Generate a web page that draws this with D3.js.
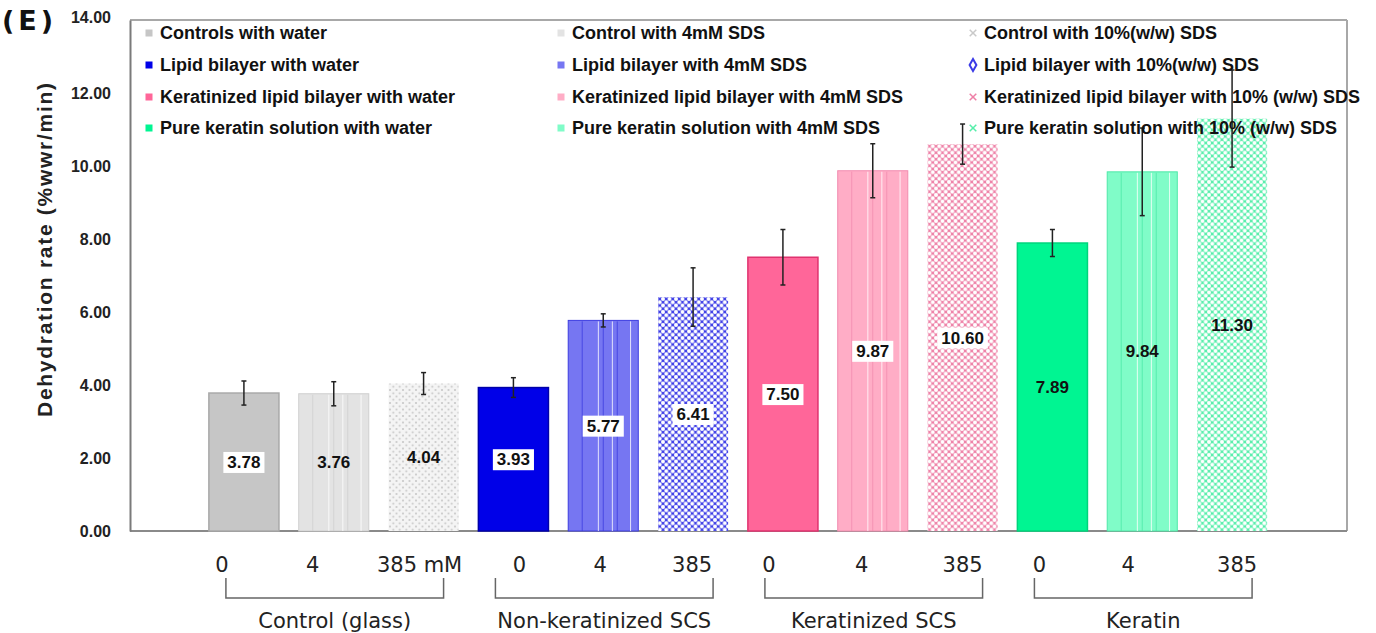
<!DOCTYPE html>
<html><head><meta charset="utf-8">
<script src="https://cdn.jsdelivr.net/npm/d3@7"></script>
<style>
html,body{margin:0;padding:0;background:#fff;}
svg{display:block;}
</style></head>
<body>
<svg id="chart" width="1376" height="633"></svg>
<script>
// ---------------- data ----------------
const groupNames = ["Control (glass)", "Non-keratinized SCS", "Keratinized SCS", "Keratin"];
const concLabels = ["0", "4", "385 mM", "0", "4", "385", "0", "4", "385", "0", "4", "385"];
const values = [3.78, 3.76, 4.04, 3.93, 5.77, 6.41, 7.50, 9.87, 10.60, 7.89, 9.84, 11.30];
const errors = [0.33, 0.33, 0.30, 0.27, 0.18, 0.80, 0.76, 0.74, 0.55, 0.37, 1.20, 1.33];
const valueText = ["3.78", "3.76", "4.04", "3.93", "5.77", "6.41", "7.50", "9.87", "10.60", "7.89", "9.84", "11.30"];
const seriesNames = [
  "Controls with water", "Control with 4mM SDS", "Control with 10%(w/w) SDS",
  "Lipid bilayer with water", "Lipid bilayer with 4mM SDS", "Lipid bilayer with 10%(w/w) SDS",
  "Keratinized lipid bilayer with water", "Keratinized lipid bilayer with 4mM SDS", "Keratinized lipid bilayer with 10% (w/w) SDS",
  "Pure keratin solution with water", "Pure  keratin solution with 4mM SDS", "Pure keratin solution with 10% (w/w) SDS"
];
const yTicks = [0, 2, 4, 6, 8, 10, 12, 14];
const yTitle = "Dehydration rate  (%wwr/min)";

// ---------------- styles (separate from data) ----------------
const materialColors = [
  {solid: "#c6c6c6", solidStroke: "#a9a9a9", stripe: "#e3e3e3", stripeStroke: "#cfcfcf", mesh: "#c9c9c9"},
  {solid: "#0000e8", solidStroke: "#0000a8", stripe: "#7676f2", stripeStroke: "#3d3de0", mesh: "#3b3be6"},
  {solid: "#ff6699", solidStroke: "#e0336f", stripe: "#ffadc6", stripeStroke: "#f28caf", mesh: "#ee7fa6"},
  {solid: "#00f592", solidStroke: "#00d47c", stripe: "#80fcc8", stripeStroke: "#4ee8a8", mesh: "#55eeaa"}
];
const fillKinds = ["solid", "stripe", "mesh"];
const boxedLabels = [true, false, false, true, true, true, true, true, true, false, false, false];
const labelNudge = [-22, -21, -4, 6, -3, -1, -14, -11, 0, -13, -14, 5];
const stripeFractions = [0.2, 0.43, 0.5, 0.63, 0.7, 0.89];

// ---------------- layout ----------------
const svg = d3.select("#chart");
const plot = {left: 130, right: 1347, top: 20, bottom: 531};
const y = d3.scaleLinear().domain([0, 14]).range([plot.bottom, plot.top]);
const x = d3.scaleBand().domain(d3.range(values.length)).range([199, 1277]).paddingInner(0.22).paddingOuter(0.11);

// patterns
const defs = svg.append("defs");
materialColors.forEach((c, i) => {
  const s = 6.5;
  const p = defs.append("pattern").attr("id", "mesh" + i).attr("patternUnits", "userSpaceOnUse")
    .attr("width", s).attr("height", s);
  const pts = [[0,0],[s,0],[0,s],[s,s],[s/2,s/2]];
  if (i === 0) {
    p.append("rect").attr("width", s).attr("height", s).attr("fill", "#f4f4f4");
    pts.forEach(([a,b]) => p.append("circle").attr("cx", a).attr("cy", b).attr("r", 1.0).attr("fill", "#c4c4c4"));
  } else {
    p.append("rect").attr("width", s).attr("height", s).attr("fill", c.mesh);
    pts.forEach(([a,b]) => p.append("circle").attr("cx", a).attr("cy", b).attr("r", 2.0).attr("fill", "#fff"));
  }
});

// frame
svg.append("line").attr("x1", plot.left).attr("x2", plot.right).attr("y1", plot.top).attr("y2", plot.top)
  .attr("stroke", "#a8a8a8").attr("stroke-width", 2);
svg.append("line").attr("x1", plot.right).attr("x2", plot.right).attr("y1", plot.top).attr("y2", plot.bottom)
  .attr("stroke", "#a8a8a8").attr("stroke-width", 2);
svg.append("line").attr("x1", plot.left).attr("x2", plot.right).attr("y1", plot.bottom).attr("y2", plot.bottom)
  .attr("stroke", "#8a8a8a").attr("stroke-width", 2);

// y axis (line + tick positions from d3 axis, labels styled explicitly)
const yAxis = svg.append("g").attr("transform", `translate(${plot.left},0)`)
  .call(d3.axisLeft(y).tickValues(yTicks).tickFormat(d3.format(".2f")).tickSize(0).tickSizeOuter(0).tickPadding(19));
yAxis.select(".domain").attr("stroke", "#7a7a7a").attr("stroke-width", 2);
yAxis.selectAll(".tick text").remove();
const fmt = d3.format(".2f");
svg.append("g").selectAll("text").data(yTicks).join("text")
  .attr("x", plot.left - 19).attr("y", d => y(d)).attr("dy", d => d === 14 ? "0.2em" : "0.35em")
  .attr("text-anchor", "end")
  .attr("font-family", "Liberation Sans, Arial, sans-serif").attr("font-weight", "bold")
  .attr("font-size", 16).attr("fill", "#222").text(d => fmt(d));

// y title
svg.append("text").attr("transform", `translate(52,250) rotate(-90)`)
  .attr("text-anchor", "middle").attr("font-family", "Liberation Sans, Arial, sans-serif")
  .attr("font-weight", "bold").attr("font-size", 21).attr("fill", "#222")
  .attr("textLength", 334).text(yTitle);

// (E)
svg.append("text").attr("x", 2).attr("y", 30).attr("font-family", "DejaVu Sans, sans-serif")
  .attr("font-weight", "bold").attr("font-size", 27).attr("letter-spacing", 4).attr("fill", "#111").text("(E)");

// bars
const bars = svg.append("g");
values.forEach((v, i) => {
  const m = Math.floor(i / 3), k = fillKinds[i % 3], c = materialColors[m];
  const x0 = x(i), w = x.bandwidth(), y0 = y(v), h = y(0) - y(v);
  if (k === "solid") {
    bars.append("rect").attr("x", x0).attr("y", y0).attr("width", w).attr("height", h)
      .attr("fill", c.solid).attr("stroke", c.solidStroke).attr("stroke-width", 1.5);
  } else if (k === "stripe") {
    bars.append("rect").attr("x", x0).attr("y", y0).attr("width", w).attr("height", h)
      .attr("fill", c.stripe).attr("stroke", c.stripeStroke).attr("stroke-width", 1);
    stripeFractions.forEach((f, j) => {
      bars.append("line").attr("x1", x0 + f * w).attr("x2", x0 + f * w).attr("y1", y0 + 1).attr("y2", y(0))
        .attr("stroke", j % 2 ? "#ffffff" : c.stripeStroke).attr("stroke-opacity", 0.8).attr("stroke-width", 1);
    });
  } else {
    bars.append("rect").attr("x", x0).attr("y", y0).attr("width", w).attr("height", h)
      .attr("fill", `url(#mesh${m})`);
  }
});

// error bars
const eb = svg.append("g").attr("stroke", "#222").attr("stroke-width", 1.5);
values.forEach((v, i) => {
  const cx = x(i) + x.bandwidth() / 2;
  eb.append("line").attr("x1", cx).attr("x2", cx).attr("y1", y(v + errors[i])).attr("y2", y(v - errors[i]));
  [v + errors[i], v - errors[i]].forEach(e =>
    eb.append("line").attr("x1", cx - 2.5).attr("x2", cx + 2.5).attr("y1", y(e)).attr("y2", y(e)));
});

// value labels
const vl = svg.append("g");
values.forEach((v, i) => {
  const cx = x(i) + x.bandwidth() / 2, cy = (y(v) + y(0)) / 2;
  const t = vl.append("text").attr("x", cx).attr("y", cy).attr("dy", "0.35em").attr("text-anchor", "middle")
    .attr("font-family", "Liberation Sans, Arial, sans-serif").attr("font-weight", "bold")
    .attr("font-size", 17).attr("fill", "#111").text(valueText[i]);
  if (boxedLabels[i]) {
    const bb = t.node().getBBox();
    vl.insert("rect", () => t.node()).attr("x", bb.x - 4).attr("y", bb.y - 1)
      .attr("width", bb.width + 8).attr("height", bb.height + 2).attr("fill", "#fff");
  }
});

// legend
const legendCols = [149, 561, 973];
const legendRows = [33, 65, 97, 128];
const lg = svg.append("g");
seriesNames.forEach((name, i) => {
  const m = Math.floor(i / 3), col = i % 3, c = materialColors[m];
  const lx = legendCols[col], ly = legendRows[m];
  if (col === 0) {
    lg.append("rect").attr("x", lx - 3.5).attr("y", ly - 3.5).attr("width", 7).attr("height", 7).attr("fill", c.solid);
  } else if (col === 1) {
    lg.append("rect").attr("x", lx - 3.5).attr("y", ly - 3.5).attr("width", 7).attr("height", 7).attr("fill", c.stripe);
  } else {
    const sym = m === 1 ? d3.symbolDiamond : d3.symbolTimes;
    lg.append("path").attr("transform", `translate(${lx},${ly})`)
      .attr("d", d3.symbol().type(sym).size(m === 1 ? 40 : 30)())
      .attr("fill", "none").attr("stroke", c.mesh).attr("stroke-width", m === 1 ? 2 : 1.5);
  }
  lg.append("text").attr("x", lx + 11).attr("y", ly).attr("dy", "0.35em")
    .attr("font-family", "Liberation Sans, Arial, sans-serif").attr("font-weight", "bold")
    .attr("font-size", 18).attr("fill", "#111").text(name);
});

// category labels
const cat = svg.append("g").attr("font-family", "DejaVu Sans, sans-serif").attr("font-size", 21).attr("fill", "#222");
concLabels.forEach((t, i) => {
  const cx = x(i) + x.bandwidth() / 2 + labelNudge[i];
  cat.append("text").attr("x", cx).attr("y", 565).attr("dy", "0.35em").attr("text-anchor", "middle").text(t);
});

// brackets and group names
groupNames.forEach((g, gi) => {
  const a = x(gi * 3) + x.bandwidth() / 2 - 18, b = x(gi * 3 + 2) + x.bandwidth() / 2 + 20;
  svg.append("path").attr("d", `M${a},578 L${a},598 L${b},598 L${b},578`)
    .attr("fill", "none").attr("stroke", "#666").attr("stroke-width", 1.5);
  cat.append("text").attr("x", (a + b) / 2).attr("y", 621).attr("dy", "0.35em").attr("text-anchor", "middle").text(g);
});
</script>
</body></html>
